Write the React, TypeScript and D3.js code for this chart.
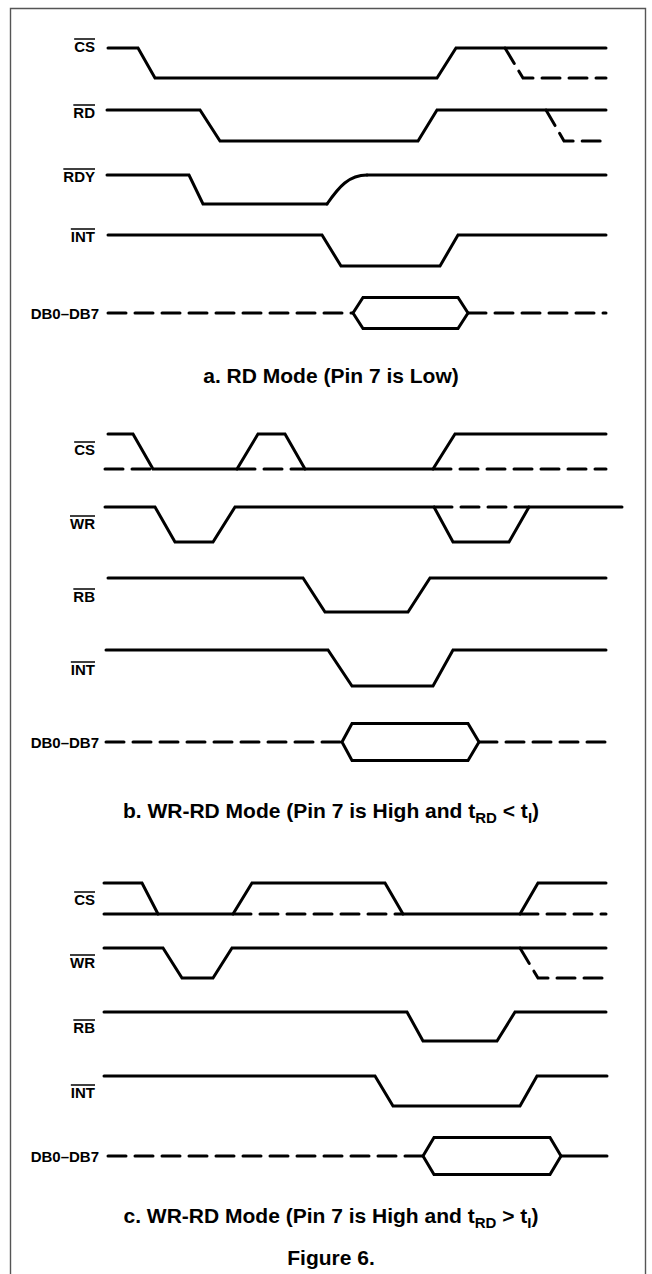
import React, { useEffect, useRef } from 'react';
import * as d3 from 'd3';

// time axis in arbitrary units (0..520), levels 1 = high, 0 = low

// a. RD mode
const aCS = [[8, 1], [38, 1], [55, 0], [337, 0], [356, 1], [506, 1]];
const aCSDash = [[405, 1], [423, 0], [506, 0]];
const aRD = [[7, 1], [100, 1], [120, 0], [318, 0], [337, 1], [506, 1]];
const aRDDash = [[446, 1], [464, 0], [506, 0]];
const aRDY = [[7, 1], [89, 1], [103, 0], [227, 0]];
const aRDYRise = [[227, 0], [267, 1]];
const aRDYHigh = [[267, 1], [506, 1]];
const aINT = [[8, 1], [222, 1], [241, 0], [340, 0], [358, 1], [506, 1]];
const aDBDash = [[8, 253], [368, 506]];
const aDBHex = [253, 263, 358, 368];

// b. WR-RD mode, tRD < tI
const bCS = [[8, 1], [33, 1], [53, 0], [137, 0], [158, 1], [185, 1], [205, 0], [333, 0], [355, 1], [506, 1]];
const bCSDash1 = [[5, 0], [53, 0]];
const bCSDash2 = [[137, 0], [205, 0]];
const bCSDash3 = [[333, 0], [506, 0]];
const bWR = [[5, 1], [55, 1], [75, 0], [113, 0], [135, 1], [334, 1], [353, 0], [409, 0], [429, 1], [522, 1]];
const bWRDash = [[334, 1], [429, 1]];
const bRB = [[8, 1], [203, 1], [225, 0], [308, 0], [330, 1], [506, 1]];
const bINT = [[6, 1], [228, 1], [252, 0], [333, 0], [353, 1], [506, 1]];
const bDBDash = [[6, 242], [379, 506]];
const bDBHex = [242, 252, 368, 379];

// c. WR-RD mode, tRD > tI
const cCS = [[4, 1], [42, 1], [58, 0], [133, 0], [152, 1], [285, 1], [303, 0], [420, 0], [438, 1], [506, 1]];
const cCSLow = [[4, 0], [58, 0]];
const cCSDash1 = [[133, 0], [303, 0]];
const cCSDash2 = [[420, 0], [506, 0]];
const cWR = [[4, 1], [63, 1], [82, 0], [113, 0], [132, 1], [506, 1]];
const cWRDash = [[420, 1], [438, 0], [506, 0]];
const cRB = [[4, 1], [307, 1], [323, 0], [397, 0], [415, 1], [506, 1]];
const cINT = [[4, 1], [275, 1], [293, 0], [420, 0], [437, 1], [507, 1]];
const cDBDash = [[8, 323]];
const cDBSolid = [[461, 507]];
const cDBHex = [323, 334, 450, 461];

const W = 652;
const H = 1274;
const FONT = '"Liberation Sans", Arial, Helvetica, sans-serif';

const signals = [
  { label: 'CS', hi: 48, lo: 78, ly: 46, segs: [{ k: 'solid', p: aCS }, { k: 'dash', p: aCSDash }] },
  { label: 'RD', hi: 110, lo: 141, ly: 112, segs: [{ k: 'solid', p: aRD }, { k: 'dash', p: aRDDash }] },
  { label: 'RDY', hi: 175, lo: 204, ly: 176, segs: [{ k: 'solid', p: aRDY }, { k: 'rc', p: aRDYRise }, { k: 'solid', p: aRDYHigh }] },
  { label: 'INT', hi: 235, lo: 266, ly: 236, segs: [{ k: 'solid', p: aINT }] },

  { label: 'CS', hi: 434, lo: 469, ly: 449, segs: [{ k: 'solid', p: bCS }, { k: 'dash', p: bCSDash1 }, { k: 'dash', p: bCSDash2 }, { k: 'dash', p: bCSDash3 }] },
  { label: 'WR', hi: 507, lo: 542, ly: 523, segs: [{ k: 'solid', p: bWR }, { k: 'dash', p: bWRDash }] },
  { label: 'RB', hi: 578, lo: 612, ly: 596, segs: [{ k: 'solid', p: bRB }] },
  { label: 'INT', hi: 650, lo: 686, ly: 669, segs: [{ k: 'solid', p: bINT }] },

  { label: 'CS', hi: 883, lo: 914, ly: 899, segs: [{ k: 'solid', p: cCS }, { k: 'solid', p: cCSLow }, { k: 'dash', p: cCSDash1 }, { k: 'dash', p: cCSDash2 }] },
  { label: 'WR', hi: 948, lo: 978, ly: 962, segs: [{ k: 'solid', p: cWR }, { k: 'dash', p: cWRDash }] },
  { label: 'RB', hi: 1012, lo: 1041, ly: 1027, segs: [{ k: 'solid', p: cRB }] },
  { label: 'INT', hi: 1076, lo: 1106, ly: 1092, segs: [{ k: 'solid', p: cINT }] },
];

const buses = [
  { label: 'DB0\u2013DB7', mid: 313, half: 15.5, dash: aDBDash, solid: [], hex: aDBHex },
  { label: 'DB0\u2013DB7', mid: 742, half: 18.5, dash: bDBDash, solid: [], hex: bDBHex },
  { label: 'DB0\u2013DB7', mid: 1156, half: 18.5, dash: cDBDash, solid: cDBSolid, hex: cDBHex },
];

const titles = [
  { y: 383, parts: [['a. RD Mode (Pin 7 is Low)', false]] },
  { y: 818, parts: [['b. WR-RD Mode (Pin 7 is High and t', false], ['RD', true], [' < t', false], ['I', true], [')', false]] },
  { y: 1223, parts: [['c. WR-RD Mode (Pin 7 is High and t', false], ['RD', true], [' > t', false], ['I', true], [')', false]] },
  { y: 1265, parts: [['Figure 6.', false]] },
];

const TimingDiagram = () => {
  const ref = useRef(null);

  useEffect(() => {
    const svg = d3.select(ref.current);
    svg.selectAll('*').remove();

    const x = d3.scaleLinear().domain([0, 520]).range([100, 620]);

    // frame, open at the bottom
    svg.append('path')
      .attr('d', `M10.5,${H + 5} V8.5 H645.5 V${H + 5}`)
      .attr('fill', 'none')
      .attr('stroke', '#555')
      .attr('stroke-width', 1.4);

    const g = svg.append('g')
      .attr('fill', 'none')
      .attr('stroke', '#000')
      .attr('stroke-width', 3)
      .attr('stroke-linecap', 'round')
      .attr('stroke-linejoin', 'miter');

    const dashArr = '18 9';

    signals.forEach((s) => {
      const y = d3.scaleLinear().domain([0, 1]).range([s.lo, s.hi]);
      const line = d3.line().x((d) => x(d[0])).y((d) => y(d[1]));
      s.segs.forEach((seg) => {
        if (seg.k === 'rc') {
          const [p0, p1] = seg.p;
          const x0 = x(p0[0]), y0 = y(p0[1]), x1 = x(p1[0]), y1 = y(p1[1]);
          const dx = x1 - x0;
          g.append('path')
            .attr('d', `M${x0},${y0} C${x0 + dx * 0.3},${y0 + (y1 - y0) * 0.6} ${x0 + dx * 0.55},${y1} ${x1},${y1}`);
        } else {
          const p = g.append('path').attr('d', line(seg.p));
          if (seg.k === 'dash') p.attr('stroke-dasharray', dashArr);
        }
      });
    });

    buses.forEach((b) => {
      b.dash.forEach(([t0, t1]) => {
        g.append('line')
          .attr('x1', x(t0)).attr('x2', x(t1))
          .attr('y1', b.mid).attr('y2', b.mid)
          .attr('stroke-dasharray', dashArr);
      });
      b.solid.forEach(([t0, t1]) => {
        g.append('line')
          .attr('x1', x(t0)).attr('x2', x(t1))
          .attr('y1', b.mid).attr('y2', b.mid);
      });
      const [h0, h1, h2, h3] = b.hex;
      const hexPts = [
        [x(h0), b.mid], [x(h1), b.mid - b.half], [x(h2), b.mid - b.half],
        [x(h3), b.mid], [x(h2), b.mid + b.half], [x(h1), b.mid + b.half],
      ];
      g.append('path').attr('d', d3.line().curve(d3.curveLinearClosed)(hexPts));
    });

    // signal labels with overbars
    signals.forEach((s) => {
      const t = svg.append('text')
        .attr('x', 95)
        .attr('y', s.ly + 5.5)
        .attr('text-anchor', 'end')
        .attr('font-family', FONT)
        .attr('font-weight', 'bold')
        .attr('font-size', 15)
        .attr('fill', '#000')
        .text(s.label);
      const w = t.node().getComputedTextLength();
      svg.append('line')
        .attr('x1', 95 - w).attr('x2', 95)
        .attr('y1', s.ly - 7).attr('y2', s.ly - 7)
        .attr('stroke', '#000')
        .attr('stroke-width', 1.5);
    });

    buses.forEach((b) => {
      svg.append('text')
        .attr('x', 99)
        .attr('y', b.mid + 5.5)
        .attr('text-anchor', 'end')
        .attr('font-family', FONT)
        .attr('font-weight', 'bold')
        .attr('font-size', 15)
        .attr('fill', '#000')
        .text(b.label);
    });

    titles.forEach((tt) => {
      const t = svg.append('text')
        .attr('x', 331)
        .attr('y', tt.y)
        .attr('text-anchor', 'middle')
        .attr('font-family', FONT)
        .attr('font-weight', 'bold')
        .attr('font-size', 21)
        .attr('fill', '#000');
      let sub = false;
      tt.parts.forEach(([str, isSub]) => {
        const span = t.append('tspan').text(str);
        if (isSub && !sub) span.attr('dy', 5).attr('font-size', 15);
        else if (!isSub && sub) span.attr('dy', -5);
        sub = isSub;
      });
    });
  }, []);

  return (
    <svg
      ref={ref}
      width={W}
      height={H}
      style={{ position: 'absolute', left: 0, top: 0, background: '#fff' }}
    />
  );
};

export default function App() {
  return <TimingDiagram />;
}
